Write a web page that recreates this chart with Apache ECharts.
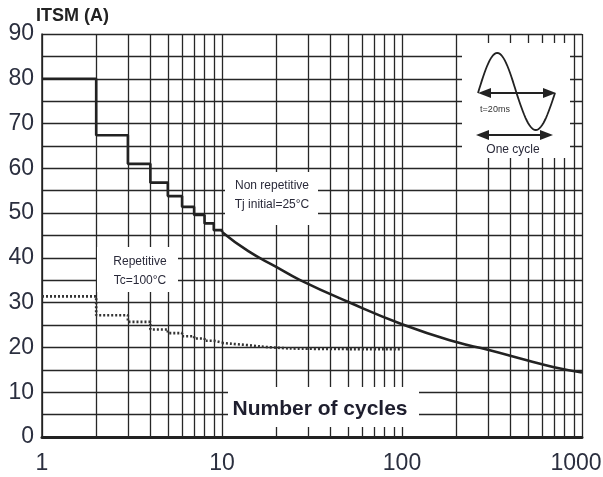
<!DOCTYPE html>
<html><head><meta charset="utf-8">
<script src="https://cdn.jsdelivr.net/npm/echarts@6/dist/echarts.min.js"></script>
<style>html,body{margin:0;padding:0;background:#fff}#c{width:603px;height:477px}</style>
</head><body><div id="c"></div>
<script>
// ---- data ----
const nonRepSteps = [[1,80],[2,67.4],[3,61],[4,56.8],[5,53.8],[6,51.4],[7,49.6],[8,47.7],[9,46.2],[10,45.8]];
const nonRepCurve = [[10,45.8],[14,41.5],[20,38.0],[27,35.1],[50,30.2],[100,25.2],[200,21.2],[300,19.5],[500,17.1],[700,15.6],[1000,14.4]];
const repSteps = [[1,31.4],[2,27.2],[3,25.7],[4,24.0],[5,23.2],[6,22.5],[7,22.0],[8,21.5],[9,21.1],[10,21.0]];
const repCurve = [[10,21.0],[14,20.5],[19,20.0],[30,19.7],[100,19.6]];
const xGridValues = [2,3,4,5,6,7,8,9,20,30,40,50,60,70,80,90,200,300,400,500,600,700,800,900];
const yTitle = 'ITSM (A)';
const xTitle = 'Number of cycles';
const noteNonRep = ['Non repetitive','Tj initial=25°C'];
const noteRep = ['Repetitive','Tc=100°C'];
const insetPeriod = 't=20ms';
const insetCycle = 'One cycle';

const SANS = '"Liberation Sans",Arial,sans-serif';
const GRID = '#262626';
const LABEL = '#2b2f3f';
const chart = echarts.init(document.getElementById('c'), null, {renderer:'canvas'});

// inset sine (decorative icon)
const sinePts = [];
for (let i=0;i<=60;i++){ const t=i/60; sinePts.push([478+77*t, 93-(t<0.5?40:37)*Math.sin(2*Math.PI*t)]); }

function arrow(x1,x2,y){
  return [
    {type:'line',shape:{x1:x1+8,y1:y,x2:x2-8,y2:y},style:{stroke:'#222',lineWidth:2},z:102},
    {type:'polygon',shape:{points:[[x1,y],[x1+13,y-5],[x1+13,y+5]]},style:{fill:'#222'},z:102},
    {type:'polygon',shape:{points:[[x2,y],[x2-13,y-5],[x2-13,y+5]]},style:{fill:'#222'},z:102}
  ];
}

const lineBase = {type:'line', showSymbol:false, symbol:'none', silent:true, animation:false};
chart.setOption({
  animation:false,
  grid:{left:42,right:21,top:34,bottom:40,outerBoundsMode:'none',containLabel:false},
  xAxis:{type:'log',logBase:10,min:1,max:1000,
    axisLine:{show:true,lineStyle:{color:'#222',width:3}},
    axisTick:{show:false},
    axisLabel:{fontFamily:SANS,fontSize:23,color:LABEL,margin:15,
      formatter:v=>(v>=1000?'{r|'+String(v)+'}':String(v)),
      rich:{r:{fontFamily:SANS,fontSize:23,color:LABEL,padding:[0,12,0,0]}}},
    splitLine:{show:true,lineStyle:{color:GRID,width:1.3}}},
  yAxis:{type:'value',min:0,max:90,interval:5,
    axisLine:{show:true,lineStyle:{color:'#222',width:1.5}},
    axisTick:{show:false},
    axisLabel:{fontFamily:SANS,fontSize:23,color:LABEL,margin:8,
      formatter:v=>(v%10===0?String(v):'')},
    splitLine:{show:true,lineStyle:{color:GRID,width:1.3}}},
  series:[
    Object.assign({},lineBase,{data:nonRepSteps,step:'end',lineStyle:{color:'#222',width:2.6},z:5,
      markLine:{silent:true,symbol:['none','none'],label:{show:false},animation:false,
        lineStyle:{type:'solid',color:GRID,width:1.3},
        data:xGridValues.map(v=>({xAxis:v}))}}),
    Object.assign({},lineBase,{data:nonRepCurve,smooth:true,lineStyle:{color:'#222',width:2.6},z:5}),
    Object.assign({},lineBase,{data:repSteps,step:'end',lineStyle:{color:'#333',width:2.6,type:[2,2]},z:5}),
    Object.assign({},lineBase,{data:repCurve,smooth:true,lineStyle:{color:'#333',width:2.6,type:[2,2]},z:5})
  ],
  graphic:[
    {type:'text',style:{x:36,y:16,text:yTitle,font:'bold 18px '+SANS,fill:'#222',verticalAlign:'middle'}},
    // white annotation boxes
    {type:'rect',shape:{x:225,y:172,width:93,height:53},style:{fill:'#fff'},z:100},
    {type:'text',style:{x:272,y:186,text:noteNonRep[0],font:'12px '+SANS,fill:'#2a2a3a',align:'center',verticalAlign:'middle'},z:101},
    {type:'text',style:{x:272,y:205,text:noteNonRep[1],font:'12px '+SANS,fill:'#2a2a3a',align:'center',verticalAlign:'middle'},z:101},
    {type:'rect',shape:{x:97,y:247,width:81,height:45},style:{fill:'#fff'},z:100},
    {type:'text',style:{x:140,y:262,text:noteRep[0],font:'12px '+SANS,fill:'#2a2a3a',align:'center',verticalAlign:'middle'},z:101},
    {type:'text',style:{x:140,y:281,text:noteRep[1],font:'12px '+SANS,fill:'#2a2a3a',align:'center',verticalAlign:'middle'},z:101},
    {type:'rect',shape:{x:228,y:387,width:191,height:40},style:{fill:'#fff'},z:100},
    {type:'text',style:{x:320,y:409,text:xTitle,font:'bold 21px '+SANS,fill:'#1e1e2e',align:'center',verticalAlign:'middle'},z:101},
    // inset
    {type:'rect',shape:{x:462,y:43,width:108,height:115},style:{fill:'#fff'},z:100},
    {type:'polyline',shape:{points:sinePts},style:{stroke:'#222',lineWidth:1.8,fill:null},z:102},
    ...arrow(478,556,93),
    ...arrow(476,553,135),
    {type:'text',style:{x:495,y:110,text:insetPeriod,font:'9px '+SANS,fill:'#333',align:'center',verticalAlign:'middle'},z:102},
    {type:'text',style:{x:513,y:150,text:insetCycle,font:'12px '+SANS,fill:'#2a2a3a',align:'center',verticalAlign:'middle'},z:102}
  ]
});
</script></body></html>
